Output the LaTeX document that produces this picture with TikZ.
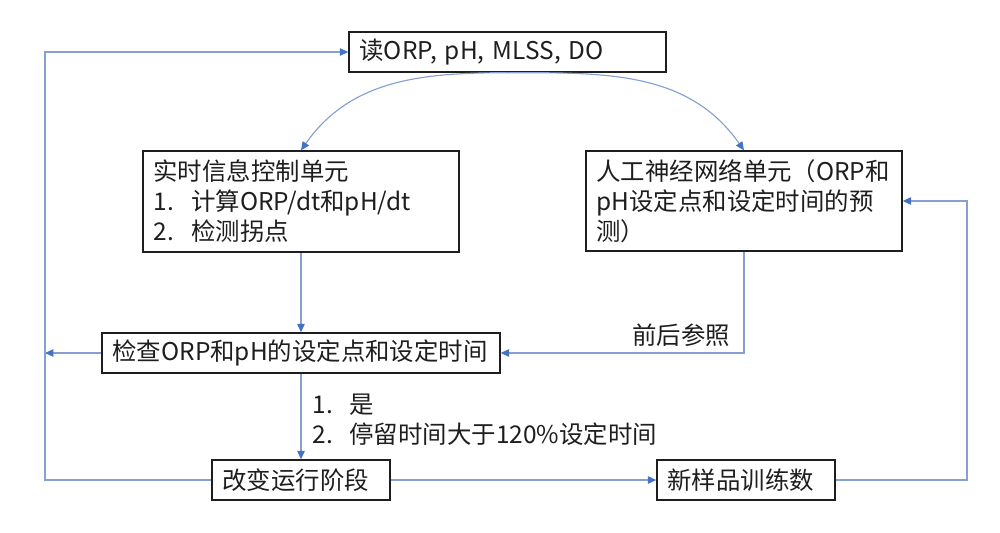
\documentclass[tikz,border=0pt]{standalone}
\usepackage{fontspec}
\setmainfont{Noto Sans CJK SC}
\usetikzlibrary{arrows.meta}
\definecolor{linkblue}{RGB}{135,160,212}
\definecolor{tipblue}{RGB}{68,114,196}
\definecolor{ink}{RGB}{30,30,30}

\begin{document}
\begin{tikzpicture}[
	x=0.02cm, y=-0.02cm,
	font=\fontsize{13.9}{17.07}\selectfont,
	box/.style={draw=ink, text=ink, line width=0.8pt, inner xsep=0.21cm, inner ysep=0.05cm, align=left},
	link/.style={draw=linkblue, line width=0.65pt, -{Triangle[length=0.17cm, width=0.15cm, color=tipblue, fill=tipblue]}},
	num/.style={}
]
	\useasboundingbox (0,0) rectangle (1000,532);
	\path
		(507.5,52) node[box, text width=5.92cm, minimum height=0.8cm](read){读ORP, pH, MLSS, DO}
		(301,201.5) node[box, text width=5.9cm, minimum height=2.02cm](rtu){实时信息控制单元\\
			\makebox[0.76cm][l]{1.}计算ORP/dt和pH/dt\\
			\makebox[0.76cm][l]{2.}检测拐点}
		(744,201) node[box, text width=5.9cm, minimum height=2.0cm](ann){人工神经网络单元（ORP和\\
			pH设定点和设定时间的预\\
			测）}
		(301,353) node[box, text width=7.54cm, minimum height=0.8cm](check){检查ORP和pH的设定点和设定时间}
		(301,480) node[box, text width=3.14cm, minimum height=0.8cm](change){改变运行阶段}
		(746,480) node[box, text width=3.14cm, minimum height=0.8cm](sample){新样品训练数}
	;
	\coordinate (lft) at (45,0);
	\coordinate (rgt) at (967,0);

	\draw[link] (read.south) to[out=180, in=55, looseness=1] (rtu.north);
	\draw[link] (read.south) to[out=0, in=125, looseness=1] (ann.north);
	\draw[link] (rtu.south) -- (check.north);
	\draw[link] (ann.south) |- (check.east)
		node[pos=0.5, above left, inner xsep=0.27cm, inner ysep=0.12cm, text=ink](ref){前后参照};
	\draw[link] (check.south) -- (change.north)
		node[midway, right, yshift=-0.07cm, inner xsep=0.22cm, align=left, text=ink](cond){\makebox[0.74cm][l]{1.}是\\
			\makebox[0.74cm][l]{2.}停留时间大于120\%设定时间};
	\draw[link] (check.west) -- (check.west -| lft);
	\draw[link] (change.west) -- (change.west -| lft) |- (read.west);
	\draw[link] (change.east) -- (sample.west);
	\draw[link] (sample.east) -- (sample.east -| rgt) |- (ann.east);
\end{tikzpicture}
\end{document}
